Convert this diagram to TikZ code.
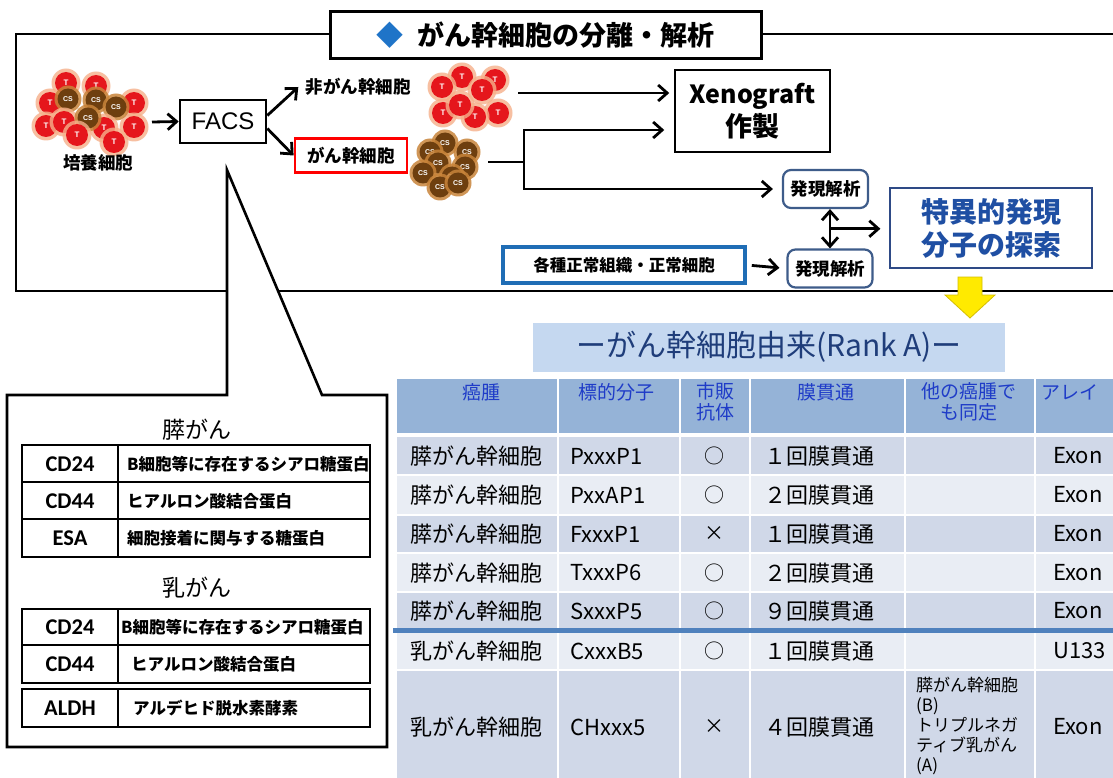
\documentclass[tikz,border=0pt]{standalone}
\usepackage{fontspec}
\setmainfont{Noto Sans CJK JP}
\newfontfamily\arialf{Liberation Sans}
\newfontfamily\calib{Carlito}
\usetikzlibrary{arrows.meta,calc}

\definecolor{cellred}{HTML}{E5161C}
\definecolor{cellhalo}{HTML}{F6B08A}
\definecolor{cscbrown}{HTML}{6E3F0F}
\definecolor{cschalo}{HTML}{C8843A}
\definecolor{dblue}{HTML}{1F74C8}
\definecolor{exprframe}{HTML}{3E5C8A}
\definecolor{spectext}{HTML}{1F4FA3}
\definecolor{specframe}{HTML}{2E4A86}
\definecolor{normframe}{HTML}{1F6DB5}
\definecolor{rankfill}{HTML}{C5D8F0}
\definecolor{ranktext}{HTML}{1F3D7A}
\definecolor{headfill}{HTML}{95B3D7}
\definecolor{headtext}{HTML}{1F3CC8}
\definecolor{rowA}{HTML}{D0D8E8}
\definecolor{rowB}{HTML}{E9EDF4}
\definecolor{sepblue}{HTML}{4F81BD}
\definecolor{arrowyellow}{HTML}{FFEA00}
\definecolor{arrowedge}{HTML}{D4BE00}

\newcommand\fsz[1]{\fontsize{#1}{#1}\selectfont}

% a tumour cell (red, "T") and a cancer stem cell (brown, "CS")
\newcommand\tumorcell[3]{%
  \fill[cellhalo,opacity=.8] (#2,#3) circle (14.5pt);
  \fill[cellred] (#2,#3) circle (11pt);
  \node[celllabel] (#1) at (#2,#3) {T};}
\newcommand\stemcell[3]{%
  \fill[cschalo,opacity=.85] (#2,#3) circle (13.5pt);
  \fill[cscbrown] (#2,#3) circle (10.5pt);
  \node[celllabel,font=\arialf\bfseries\fsz{7}] (#1) at (#2,#3) {CS};}

\tikzset{
  celllabel/.style={text=white,inner sep=0pt,font=\arialf\bfseries\fsz{8}},
  frame/.style={line width=2.6pt,line join=miter},
  barb/.tip={Straight Barb[length=9pt,width=16pt]},
  arr/.style={line width=2.8pt,-barb},
  darr/.style={line width=2.8pt,barb-barb},
  label/.style={font=\bfseries\fsz{17.5},inner sep=2pt},
  expr/.style={draw=exprframe,line width=2.2pt,rounded corners=8pt,fill=white,
    minimum width=85pt,minimum height=38pt,inner sep=0pt,font=\bfseries\fsz{17.5}},
  cellt/.style={inner sep=0pt,font=\fsz{22}},
  headt/.style={inner sep=0pt,font=\fsz{19},text=headtext,align=center},
  marker/.style={inner sep=0pt,font=\calib\bfseries\fsz{22.5}},
  desc/.style={inner sep=0pt,anchor=west,font=\bfseries\fsz{16.5}},
  tbl/.style={line width=2.2pt},
}

\begin{document}
\begin{tikzpicture}[x=1pt,y=-1pt]
\useasboundingbox (0,0) rectangle (1113,778);
\fill[white] (0,0) rectangle (1113,778);

% ---------- title and the outer frame ----------
\node[draw,line width=3pt,fill=white,minimum width=431pt,minimum height=47pt,inner sep=0pt,
  font=\bfseries\fsz{27}] (title) at (545.5,35.5)
  {\textcolor{dblue}{◆}\hspace{14pt}がん幹細胞の分離・解析};
\draw[frame] (title.west |- 0,34) -- (16,34) -- (16,291) -- (1113,291);
\draw[frame] (title.east |- 0,34) -- (1113,34);

% ---------- callout with the marker tables ----------
\coordinate (apex) at (227,170);
\draw[frame,fill=white] (7,395) -- (227,395) -- (apex) -- (322,395) -- (387,395)
  -- (387,747) -- (7,747) -- cycle;

\node[inner sep=0pt,font=\fsz{23}] (panc) at (197,430) {膵がん};
\draw[tbl] (22,445) rectangle (370,557);
\draw[tbl] (22,482) -- (370,482) (22,519) -- (370,519) (118,445) -- (118,557);
\node[marker] (m1) at (70,464) {CD24};
\node[marker] (m2) at (70,501) {CD44};
\node[marker] (m3) at (70,538) {ESA};
\node[desc] (d1) at (127,464) {B細胞等に存在するシアロ糖蛋白};
\node[desc] (d2) at (127,501) {ヒアルロン酸結合蛋白};
\node[desc] (d3) at (127,538) {細胞接着に関与する糖蛋白};

\node[inner sep=0pt,font=\fsz{23}] (breast) at (197,588) {乳がん};
\draw[tbl] (22,609) rectangle (370,683);
\draw[tbl] (22,645) -- (370,645) (118,609) -- (118,683);
\draw[tbl] (22,689) rectangle (370,727);
\draw[tbl] (118,689) -- (118,727);
\node[marker] (m4) at (70,627) {CD24};
\node[marker] (m5) at (70,664) {CD44};
\node[marker] (m6) at (70,708) {ALDH};
\node[desc] (d4) at (121,627) {B細胞等に存在するシアロ糖蛋白};
\node[desc] (d5) at (131,664) {ヒアルロン酸結合蛋白};
\node[desc] (d6) at (133,708) {アルデヒド脱水素酵素};

% ---------- cultured cells ----------
\foreach[count=\i] \x/\y in {66/83,96/86,50/103,134/103,46/126,134/127}
  {\tumorcell{cu\i}{\x}{\y}}
\foreach[count=\i] \x/\y in {68/99,96/100,116/107}
  {\stemcell{cs\i}{\x}{\y}}
\foreach[count=\i] \x/\y in {64/122,104/128}
  {\tumorcell{cv\i}{\x}{\y}}
\stemcell{cs4}{88}{118}
\foreach[count=\i] \x/\y in {77/135,114/142}
  {\tumorcell{cw\i}{\x}{\y}}
\node[label] (cult) at (98,163) {培養細胞};

% ---------- sorting ----------
\coordinate (cultE) at (152,122);
\node[draw,line width=2.6pt,minimum width=86pt,minimum height=43pt,inner sep=0pt,
  font=\arialf\fsz{24}] (facs) at (223,121.5) {FACS};
\draw[arr] (cultE) -- (facs.west);

\node[label] (noncsc) at (358,87) {非がん幹細胞};
\node[draw=red,line width=2.8pt,minimum width=112pt,minimum height=34pt,inner sep=0pt,
  font=\bfseries\fsz{17.5}] (csc) at (351,155.5) {がん幹細胞};
\draw[arr] ([yshift=6pt]facs.east) -- ([xshift=-5pt]noncsc.west |- 0,87);
\draw[arr] ([yshift=-7pt]facs.east) -- (csc.west);

% non stem cell cluster
\foreach[count=\i] \x/\y in {462/77,495/80,442/87,482/90,443/113,498/113,475/117,460/105}
  {\tumorcell{nt\i}{\x}{\y}}
% stem cell cluster
\foreach[count=\i] \x/\y in {445/143,467/152,430/152,438/163,465/167,423/173,452/177,440/187,458/183}
  {\stemcell{st\i}{\x}{\y}}

% ---------- downstream ----------
\node[draw,line width=1.5pt,minimum width=155pt,minimum height=82pt,inner sep=0pt,
  align=center,font=\bfseries] (xeno) at (752.5,111)
  {{\fsz{25}Xenograft}\\[3pt]{\fsz{27}作製}};
\node[expr] (expr1) at (825.5,189) {発現解析};
\node[expr] (expr2) at (830,268.5) {発現解析};
\node[draw=specframe,line width=1.2pt,minimum width=202pt,minimum height=80pt,inner sep=0pt,
  align=center,text=spectext,font=\bfseries\fontsize{28}{33}\selectfont] (spec) at (991,228)
  {特異的発現\\分子の探索};
\node[draw=normframe,line width=3.6pt,minimum width=242pt,minimum height=36pt,inner sep=0pt,
  font=\bfseries\fsz{16.5}] (normal) at (624,265) {各種正常組織・正常細胞};

\coordinate (nonE) at (518,93);
\draw[arr,shorten >=5pt] (nonE) -- (xeno.west |- nonE);
\coordinate (cscE) at (488,162);
\coordinate (br) at (524,162);
\draw[line width=2.8pt] (cscE) -- (br);
\draw[arr,shorten >=10pt] (br) |- (xeno.west |- 0,130);
\draw[arr,shorten >=9pt] (br) |- (expr1.west);
\draw[darr] (expr2.north |- expr1.south) -- (expr2.north);
\coordinate (dmid) at ($(expr2.north |- expr1.south)!0.5!(expr2.north)$);
\draw[arr,shorten >=9pt] (dmid) -- (spec.west |- dmid);
\draw[arr,shorten <=5pt,shorten >=7pt] (normal.east) -- (expr2.west);

% yellow arrow into the result table
\draw[arrowedge,fill=arrowyellow,line width=.8pt,line join=miter]
  (958,277) -- (982,277) -- (982,295) -- (995,295) -- (970,318) -- (945,295) -- (958,295) -- cycle;

% ---------- result table ----------
\node[fill=rankfill,minimum width=472pt,minimum height=49pt,inner sep=0pt,
  text=ranktext,font=\fsz{30}] (rank) at (769,347) {ーがん幹細胞由来(Rank A)ー};

\fill[headfill] (397,379) rectangle (1113,433);
\foreach \ya/\yb/\c in {437/475/rowA,475/515/rowB,515/553/rowA,553/592/rowB,
  592/628/rowA,633/670/rowB,670/778/rowA}
  \fill[\c] (397,\ya) rectangle (1113,\yb);
\foreach \x in {558,680,750,905,1035}
  \draw[white,line width=1.6pt] (\x,379) -- (\x,778);
\foreach \y in {475,515,553,592,670}
  \draw[white,line width=1.6pt] (397,\y) -- (1113,\y);
\draw[sepblue,line width=5pt] (393,630.5) -- (1113,630.5);

\node[headt] (h1) at (481,392) {癌腫};
\node[headt] (h2) at (616,392) {標的分子};
\node[headt,font=\fontsize{19}{21}\selectfont] (h3) at (715,402) {市販\\抗体};
\node[headt] (h4) at (826,392) {膜貫通};
\node[headt,font=\fontsize{19}{21}\selectfont] (h5) at (969,402) {他の癌腫で\\も同定};
\node[headt,anchor=west] (h6) at (1041,392) {アレイ};

\foreach[count=\i] \y/\a/\b/\c/\d/\e in {
  456/膵がん幹細胞/PxxxP1/○/１回膜貫通/Exon,
  495/膵がん幹細胞/PxxAP1/○/２回膜貫通/Exon,
  534/膵がん幹細胞/FxxxP1/×/１回膜貫通/Exon,
  573/膵がん幹細胞/TxxxP6/○/２回膜貫通/Exon,
  611/膵がん幹細胞/SxxxP5/○/９回膜貫通/Exon,
  651/乳がん幹細胞/CxxxB5/○/１回膜貫通/U133,
  727/乳がん幹細胞/CHxxx5/×/４回膜貫通/Exon}{
  \node[cellt,anchor=west] (ra\i) at (410,\y) {\a};
  \node[cellt,anchor=west] (rb\i) at (570,\y) {\b};
  \node[cellt,font=\fsz{20}] (rc\i) at (714,\y) {\c};
  \node[cellt,anchor=west] (rd\i) at (764,\y) {\d};
  \node[cellt,anchor=west] (re\i) at (1053,\y) {\e};
}
\node[inner sep=0pt,anchor=north west,align=left,font=\fontsize{17}{20}\selectfont]
  (rf7) at (916,677) {膵がん幹細胞\\(B)\\トリプルネガ\\ティブ乳がん\\(A)};

\end{tikzpicture}
\end{document}
